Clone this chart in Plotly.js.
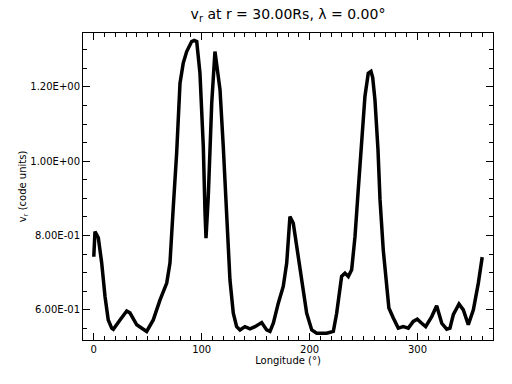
<!DOCTYPE html>
<html>
<head>
<meta charset="utf-8">
<script src="https://cdn.plot.ly/plotly-3.0.1.min.js"></script>
<style>html,body{margin:0;padding:0;background:#fff;}#chart{width:512px;height:384px;}</style>
</head>
<body>
<div id="chart"></div>
<script>
const longitude = [0, 1.1, 4.2, 7.3, 10.4, 13.4, 16.6, 18.1, 24.3, 30.5, 33.5, 39.8, 45.9, 49, 55.1, 61.4, 67.6, 70.6, 73.7, 76.8, 79.9, 82.9, 86.1, 90.7, 93, 95.4, 98.4, 101.5, 103.1, 104, 106.1, 109.3, 112.3, 117, 120, 123.2, 126.2, 129.3, 132.4, 135.5, 140.1, 144.8, 149.4, 155.6, 160.2, 163.3, 166.4, 171, 175.6, 178.8, 181.8, 184.9, 188, 192.7, 197.3, 202, 206.6, 215.8, 222, 225.1, 229.7, 232.8, 235.9, 239, 242.1, 245.1, 248.3, 251.3, 254.4, 256.9, 258.5, 260.6, 263.4, 265.3, 268.3, 271.4, 273.5, 277.6, 282.2, 286.8, 291.5, 296.1, 299.8, 303.9, 307.6, 313.2, 317.8, 322.5, 327.1, 330.1, 333.2, 338.5, 342.5, 347.1, 351.8, 356.4, 360];
const vr = [0.743, 0.811, 0.794, 0.727, 0.636, 0.573, 0.551, 0.548, 0.573, 0.597, 0.592, 0.560, 0.548, 0.542, 0.573, 0.627, 0.672, 0.726, 0.878, 1.022, 1.210, 1.264, 1.295, 1.322, 1.325, 1.322, 1.237, 1.04, 0.861, 0.793, 0.905, 1.156, 1.295, 1.192, 1.04, 0.860, 0.681, 0.591, 0.555, 0.546, 0.555, 0.549, 0.555, 0.566, 0.546, 0.542, 0.564, 0.618, 0.663, 0.726, 0.851, 0.833, 0.770, 0.681, 0.591, 0.546, 0.537, 0.537, 0.542, 0.591, 0.690, 0.699, 0.690, 0.708, 0.797, 0.923, 1.058, 1.174, 1.237, 1.242, 1.225, 1.165, 1.031, 0.896, 0.761, 0.672, 0.605, 0.578, 0.551, 0.555, 0.551, 0.569, 0.575, 0.564, 0.555, 0.582, 0.611, 0.564, 0.548, 0.551, 0.587, 0.616, 0.600, 0.560, 0.600, 0.672, 0.742];
const xTickVals = [0, 100, 200, 300];
const xTickText = ['0', '100', '200', '300'];
const yTickVals = [0.6, 0.8, 1.0, 1.2];
const yTickText = ['6.00E-01', '8.00E-01', '1.00E+00', '1.20E+00'];

const fontFam = 'DejaVu Sans, sans-serif';
Plotly.newPlot('chart', [{
  x: longitude, y: vr, type: 'scatter', mode: 'lines',
  line: {color: '#000', width: 3.5, shape: 'linear'}, hoverinfo: 'skip'
}], {
  width: 512, height: 384,
  margin: {l: 83, r: 19, t: 33, b: 44},
  paper_bgcolor: '#fff', plot_bgcolor: '#fff',
  showlegend: false,
  font: {family: fontFam, color: '#000', size: 10},
  title: {text: 'v<sub>r</sub> at r = 30.00Rs, λ = 0.00°', font: {family: fontFam, size: 14, color: '#000'}, x: 0.5625, xanchor: 'center', y: 0.962, yanchor: 'middle'},
  xaxis: {
    range: [-10, 370], showgrid: false, zeroline: false,
    showline: true, linecolor: '#000', linewidth: 1, mirror: 'ticks',
    ticks: 'inside', ticklen: 7, tickcolor: '#000', tickwidth: 1,
    tickvals: xTickVals, ticktext: xTickText,
    minor: {dtick: 10, tick0: 0, ticks: 'inside', ticklen: 4, tickcolor: '#000', showgrid: false},
    title: {text: 'Longitude (°)', font: {family: fontFam, size: 10, color: '#000'}, standoff: 2}
  },
  yaxis: {
    range: [0.519, 1.345], showgrid: false, zeroline: false,
    showline: true, linecolor: '#000', linewidth: 1, mirror: 'ticks',
    ticks: 'inside', ticklen: 7, tickcolor: '#000', tickwidth: 1,
    tickvals: yTickVals, ticktext: yTickText,
    minor: {dtick: 0.05, tick0: 0, ticks: 'inside', ticklen: 4, tickcolor: '#000', showgrid: false},
    title: {text: 'v<sub>r</sub> (code units)', font: {family: fontFam, size: 10, color: '#000'}, standoff: 1}
  }
}, {staticPlot: true, displayModeBar: false});
</script>
</body>
</html>
